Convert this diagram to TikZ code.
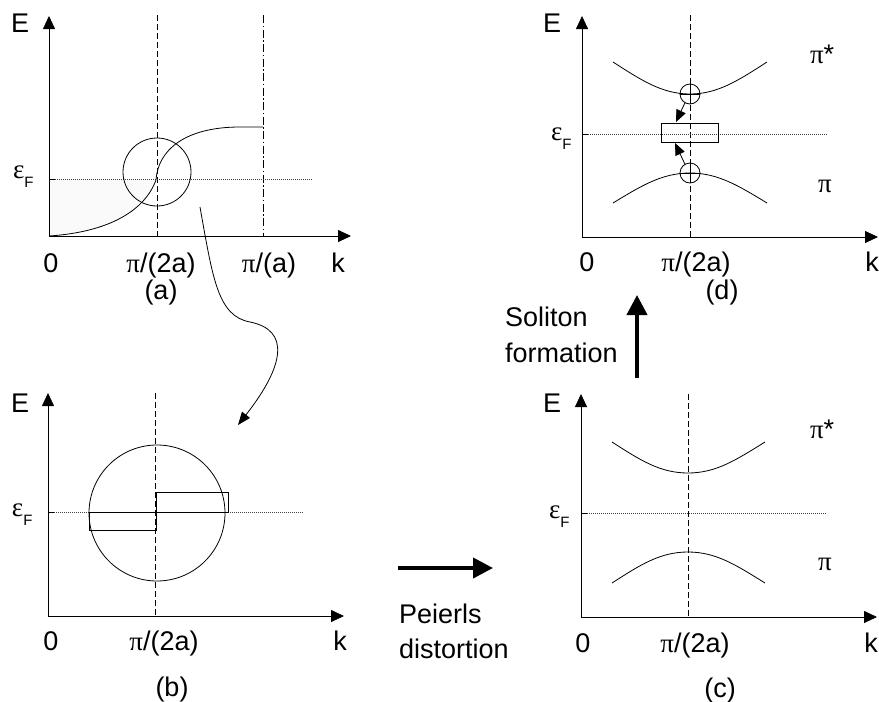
\documentclass[tikz,border=0pt]{standalone}
\usepackage{fontspec}
\setmainfont{Liberation Sans}
\newfontfamily\gr{Liberation Serif}
\usetikzlibrary{arrows.meta}
\newcommand{\epsF}{{\gr ε}\raisebox{-9pt}{\fontsize{15}{15}\selectfont F}}
\begin{document}
\begin{tikzpicture}[x=1pt,y=-1pt,
  every node/.style={inner sep=0pt,outer sep=0pt,font=\fontsize{27}{32}\selectfont},
  lbl/.style={anchor=base},
  lblw/.style={anchor=base west},
  axis/.style={line width=0.8pt,-{Triangle[length=13pt,width=12pt]}},
  thin/.style={line width=0.8pt},
  vdash/.style={line width=0.7pt,dash pattern=on 6pt off 3pt},
  vdashdot/.style={line width=0.7pt,dash pattern=on 8pt off 2.5pt on 1.5pt off 2.5pt},
  fermi/.style={line width=0.5pt,black!75,dash pattern=on 1pt off 1pt},
  bigarrow/.style={line width=4pt,-{Triangle[length=20pt,width=20pt]}},
  smallarrow/.style={line width=0.8pt,-{Triangle[length=12pt,width=10pt]}}
]
\useasboundingbox (0,0) rectangle (879,702);

% ================= panel (a) =================
\coordinate (oa) at (49,236);
\coordinate (ya) at (49,16);
\coordinate (xa) at (351,236);
\fill[gray!4] (49,179) -- (oa) .. controls (110,232) and (145,210) .. (156,180) -- cycle;
\draw[vdash] (157,15) -- (157,236);
\draw[vdashdot] (263,15) -- (263,236);
\draw[fermi] (49,179) -- (313,179);
\draw[thin] (49,179) -- (55,179);
\draw[thin] (oa) .. controls (110,232) and (145,210) .. (156,180)
   .. controls (158,150) and (185,127) .. (240,127) -- (263,127);
\draw[thin] (157,172) circle[radius=34];
\draw[axis] (oa) -- (ya);
\draw[axis] (oa) -- (xa);
\node[lblw] (Ea) at (11,32) {E};
\node[lblw] (efa) at (13,178) {\epsF};
\node[lbl] (za) at (51,272) {0};
\node[lbl] (pa1) at (161,272) {{\gr π}/(2a)};
\node[lbl] (pa2) at (269,272) {{\gr π}/(a)};
\node[lbl] (ka) at (338,272) {k};
\node[lbl] (capa) at (161,299) {(a)};

% curved connector (a) -> (b)
\coordinate (cs) at (200,207);
\coordinate (ce) at (238,425);
\draw[thin,-{Triangle[length=13pt,width=10pt]}] (cs) .. controls (213,280) and (218,316) .. (250,322)
   .. controls (290,330) and (285,365) .. (ce);

% ================= panel (b) =================
\coordinate (ob) at (48,616);
\draw[vdash] (155,393) -- (155,616);
\draw[fermi] (48,512) -- (303,512);
\draw[thin] (48,512) -- (54,512);
\draw[thin] (157,513) circle[radius=68];
\draw[thin] (89,512) rectangle (156,530);
\draw[thin] (156,492) rectangle (228,512);
\draw[axis] (ob) -- (48,393);
\draw[axis] (ob) -- (344,616);
\node[lblw] (Eb) at (11,412) {E};
\node[lblw] (efb) at (12,516) {\epsF};
\node[lbl] (zb) at (51,650) {0};
\node[lbl] (pb) at (164,650) {{\gr π}/(2a)};
\node[lbl] (kb) at (340,650) {k};
\node[lbl] (capb) at (172,696) {(b)};

% ================= Peierls arrow =================
\coordinate (ps) at (398,568);
\coordinate (pe) at (493,568);
\draw[bigarrow] (ps) -- (pe);
\node[lblw] (pei1) at (399,623) {Peierls};
\node[lblw] (pei2) at (399,658) {distortion};

% ================= panel (c) =================
\coordinate (oc) at (581,617);
\draw[vdash] (688,394) -- (688,617);
\draw[fermi] (581,513) -- (827,513);
\draw[thin] (581,513) -- (587,513);
\draw[thin] (612,442) .. controls (640,460) and (660,473) .. (688,473)
   .. controls (716,473) and (736,460) .. (765,442);
\draw[thin] (612,583) .. controls (640,565) and (660,552) .. (688,552)
   .. controls (716,552) and (736,565) .. (765,583);
\draw[axis] (oc) -- (581,394);
\draw[axis] (oc) -- (877,617);
\node[lblw] (Ec) at (543,412) {E};
\node[lblw] (efc) at (549,518) {\epsF};
\node[lblw] (psc) at (810,438) {{\gr π}*};
\node[lblw] (pic) at (818,570) {{\gr π}};
\node[lbl] (zc) at (583,652) {0};
\node[lbl] (pc) at (695,652) {{\gr π}/(2a)};
\node[lbl] (kc) at (871,652) {k};
\node[lbl] (capc) at (720,697) {(c)};

% ================= Soliton arrow =================
\coordinate (ss) at (637,378);
\coordinate (se) at (637,295);
\draw[bigarrow] (ss) -- (se);
\node[lblw] (sol1) at (505,326) {Soliton};
\node[lblw] (sol2) at (505,362) {formation};

% ================= panel (d) =================
\coordinate (od) at (582,237);
\draw[vdash] (690,15) -- (690,237);
\draw[fermi] (582,134) -- (828,134);
\draw[thin] (582,134) -- (588,134);
\draw[thin] (613,62) .. controls (641,80) and (662,94) .. (690,94)
   .. controls (718,94) and (739,80) .. (767,62);
\draw[thin] (613,203) .. controls (641,186) and (662,173) .. (690,173)
   .. controls (718,173) and (739,186) .. (767,203);
\draw[thin] (661,123) rectangle (718,142);
\node[draw,thin,circle,minimum size=20pt] (cu) at (690,94) {};
\node[draw,thin,circle,minimum size=20pt] (cl) at (690,173) {};
\draw[thin] (cu.west) -- (cu.east) (cu.north) -- (cu.south);
\draw[thin] (cl.west) -- (cl.east) (cl.north) -- (cl.south);
\coordinate (rt) at (676,122);
\coordinate (rb) at (675,143);
\draw[smallarrow] (cu.-120) -- (rt);
\draw[smallarrow] (cl.120) -- (rb);
\draw[axis] (od) -- (582,16);
\draw[axis] (od) -- (878,237);
\node[lblw] (Ed) at (543,32) {E};
\node[lblw] (efd) at (551,140) {\epsF};
\node[lblw] (psd) at (810,63) {{\gr π}*};
\node[lblw] (pid) at (818,192) {{\gr π}};
\node[lbl] (zd) at (587,271) {0};
\node[lbl] (pd) at (696,271) {{\gr π}/(2a)};
\node[lbl] (kd) at (872,271) {k};
\node[lbl] (capd) at (722,299) {(d)};
\end{tikzpicture}
\end{document}
